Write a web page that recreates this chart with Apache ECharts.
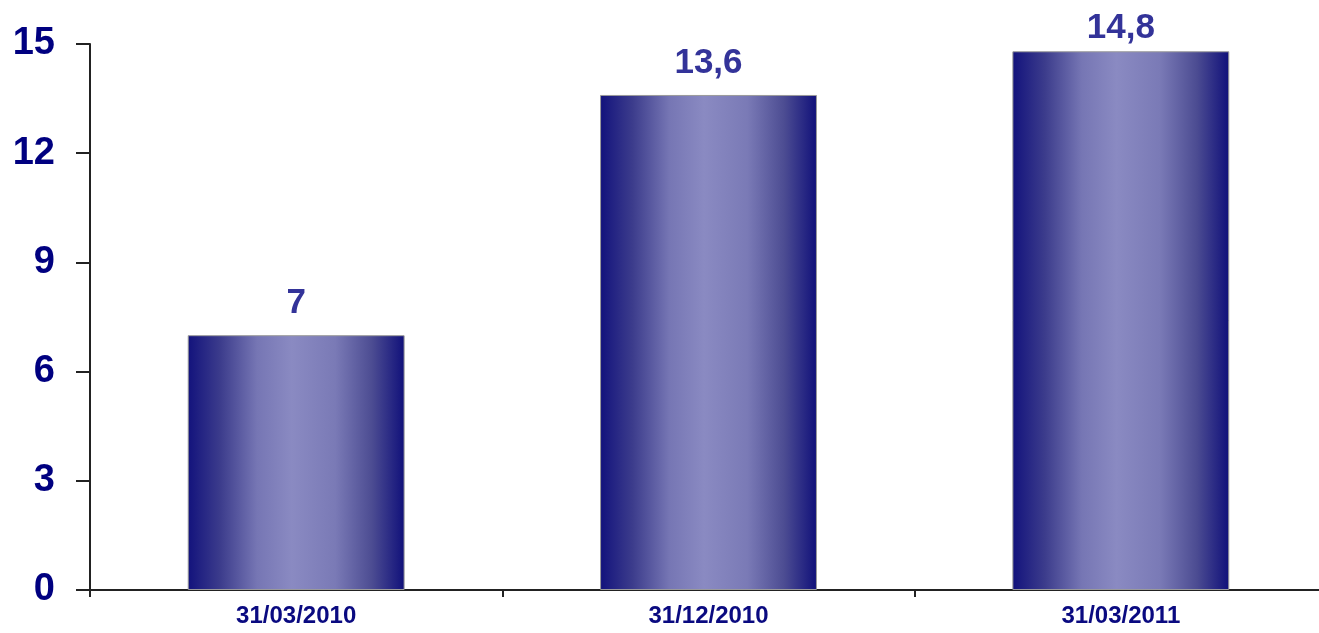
<!DOCTYPE html>
<html>
<head>
<meta charset="utf-8">
<script src="https://cdn.jsdelivr.net/npm/echarts@6/dist/echarts.min.js"></script>
<style>
html,body{margin:0;padding:0;background:#fff;}
#chart{width:1319px;height:633px;}
</style>
</head>
<body>
<div id="chart"></div>
<script>
const categories = ['31/03/2010', '31/12/2010', '31/03/2011'];
const values = [7, 13.6, 14.8];
const yTicks = { min: 0, max: 15, interval: 3 };

const font = '"Liberation Sans", Arial, sans-serif';
const chart = echarts.init(document.getElementById('chart'));
const barGradient = new echarts.graphic.LinearGradient(0, 0, 1, 0, [
  { offset: 0, color: '#12127c' },
  { offset: 0.15, color: '#3c3c8c' },
  { offset: 0.32, color: '#7676b4' },
  { offset: 0.48, color: '#8a8ac2' },
  { offset: 0.68, color: '#7a7ab6' },
  { offset: 0.85, color: '#4c4c92' },
  { offset: 1, color: '#10107a' }
]);
chart.setOption({
  animation: false,
  backgroundColor: '#ffffff',
  grid: { left: 90, top: 44, bottom: 43, width: 1237, containLabel: false, outerBoundsMode: 'none' },
  xAxis: {
    type: 'category',
    data: categories,
    axisLine: { show: true, lineStyle: { color: '#222', width: 2 } },
    axisTick: { show: true, alignWithLabel: false, length: 7, lineStyle: { color: '#222', width: 2 } },
    axisLabel: { margin: 14, color: '#0a0a80', fontFamily: font, fontWeight: 'bold', fontSize: 24 }
  },
  yAxis: {
    type: 'value',
    min: yTicks.min, max: yTicks.max, interval: yTicks.interval,
    splitLine: { show: false },
    axisLine: { show: true, lineStyle: { color: '#222', width: 2 } },
    axisTick: { show: true, length: 14, lineStyle: { color: '#222', width: 2 } },
    axisLabel: { margin: 35, color: '#000080', fontFamily: font, fontWeight: 'bold', fontSize: 38 }
  },
  series: [{
    type: 'bar',
    data: values,
    barWidth: '52.6%',
    itemStyle: { color: barGradient, borderColor: '#9a9a9a', borderWidth: 1 },
    label: {
      show: true, position: 'top', distance: 14,
      color: '#333399', fontFamily: font, fontWeight: 'bold', fontSize: 35,
      formatter: p => String(p.value).replace('.', ',')
    },
    labelLayout: p => (p.labelRect.y < 11 ? { dy: 11 - p.labelRect.y } : {})
  }]
});
</script>
</body>
</html>
